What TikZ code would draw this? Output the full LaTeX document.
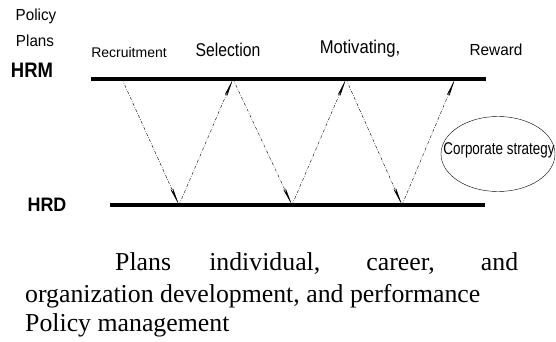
\documentclass[tikz,border=0pt]{standalone}
\usepackage{fontspec}
\usepackage{graphicx}
\setmainfont{Liberation Serif}
\setsansfont{Liberation Sans}
\usetikzlibrary{arrows.meta,shapes.geometric}

% narrow sans labels
\newcommand{\squeeze}[2]{\scalebox{#1}[1]{#2}}

\begin{document}
\begin{tikzpicture}[x=1pt, y=-1pt,
  bar/.style={line width=4pt},
  swing/.style={line width=0.4pt, dash pattern=on 3pt off 1.5pt on 0.6pt off 1.5pt,
    -{Stealth[length=20pt, width=3pt]}},
  tag/.style={font=\sffamily\fontsize{16}{18}\selectfont, inner sep=0pt},
  side/.style={font=\sffamily\bfseries\fontsize{21}{24}\selectfont, inner sep=0pt},
  prose/.style={font=\fontsize{25.8}{30}\selectfont, inner sep=0pt, anchor=base west}]
  \useasboundingbox (0,0) rectangle (556,342);

  % the two levels
  \node[tag] (policy) at (36,16) {\squeeze{0.95}{Policy}};
  \node[tag] (plans) at (35,41) {\squeeze{0.95}{Plans}};
  \node[side] (hrm) at (32,70) {\squeeze{0.88}{HRM}};
  \node[side, font=\sffamily\bfseries\fontsize{19.5}{22}\selectfont] (hrd) at (47,205) {\squeeze{0.92}{HRD}};
  \coordinate (hrmL) at (91,79);  \coordinate (hrmR) at (486,79);
  \coordinate (hrdL) at (110,205); \coordinate (hrdR) at (485,205);
  \draw[bar] (hrmL) -- (hrmR);
  \draw[bar] (hrdL) -- (hrdR);

  % functions along the top
  \node[tag, font=\sffamily\fontsize{14}{16}\selectfont] (recruit) at (129,52) {Recruitment};
  \node[tag, font=\sffamily\fontsize{18.5}{20}\selectfont] (select) at (228,50) {\squeeze{0.85}{Selection}};
  \node[tag, font=\sffamily\fontsize{18.5}{20}\selectfont] (motiv) at (360,49) {\squeeze{0.9}{Motivating,}};
  \node[tag] (reward) at (496,50) {\squeeze{0.96}{Reward}};

  % zigzag between HRM and HRD
  \coordinate (t1) at (122,79); \coordinate (t2) at (233,79);
  \coordinate (t3) at (346,79); \coordinate (t4) at (455,79);
  \coordinate (b1) at (179,205); \coordinate (b2) at (292,205);
  \coordinate (b3) at (402,205);
  \foreach \a/\b in {t1/b1, b1/t2, t2/b2, b2/t3, t3/b3, b3/t4}
    \draw[swing] (\a) -- (\b);

  \node[ellipse, draw, minimum width=114pt, minimum height=75pt, inner sep=0pt] (corp) at (498,154) {};
  \node[tag, font=\sffamily\fontsize{17}{19}\selectfont] (corptext) at (499,150) {\squeeze{0.79}{Corporate strategy}};

  % text below
  \node[prose] (line1) at (115,270) {\makebox[403pt][s]{Plans individual, career, and}};
  \node[prose] (line2) at (25,302) {organization development, and performance};
  \node[prose] (line3) at (25,331) {Policy management};
\end{tikzpicture}
\end{document}
